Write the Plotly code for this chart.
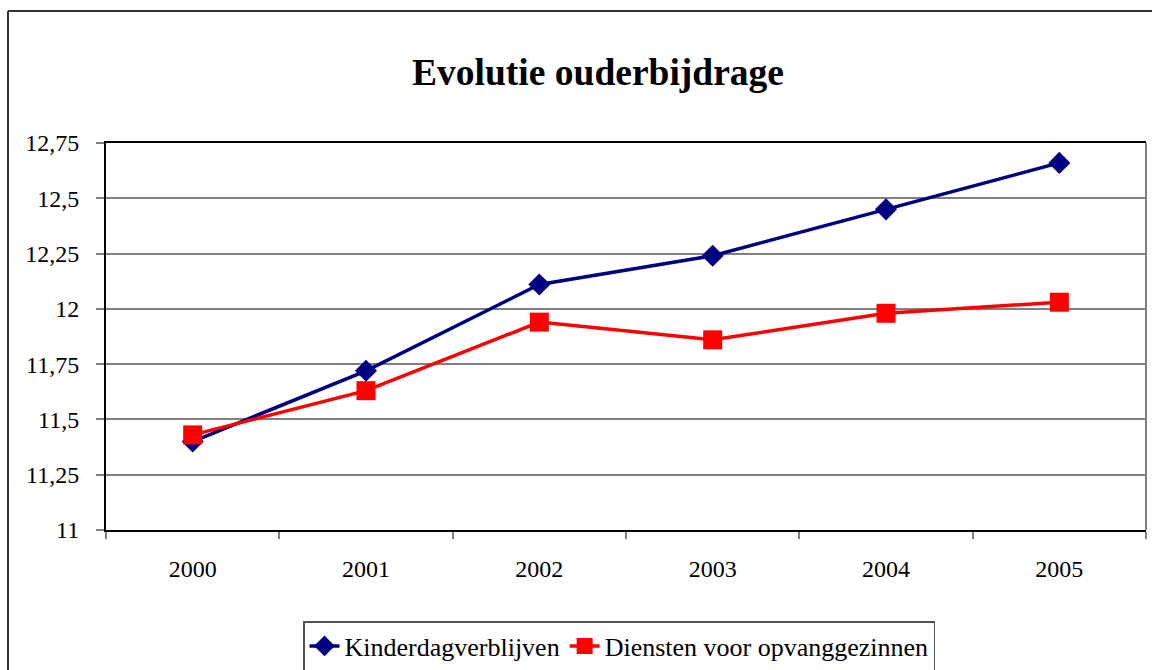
import plotly.graph_objects as go

years = ["2000", "2001", "2002", "2003", "2004", "2005"]
kinderdag = [11.40, 11.72, 12.11, 12.24, 12.45, 12.66]
diensten = [11.43, 11.63, 11.94, 11.86, 11.98, 12.03]
y_ticks = [11, 11.25, 11.5, 11.75, 12, 12.25, 12.5, 12.75]
y_labels = ["11", "11,25", "11,5", "11,75", "12", "12,25", "12,5", "12,75"]

FONT = "Liberation Serif, Times New Roman, serif"

fig = go.Figure()
fig.add_trace(go.Scatter(
    x=years, y=kinderdag, name="Kinderdagverblijven", mode="lines+markers",
    line=dict(color="#000080", width=3.5),
    marker=dict(symbol="diamond", size=17, color="#000080"),
))
fig.add_trace(go.Scatter(
    x=years, y=diensten, name="Diensten voor opvanggezinnen", mode="lines+markers",
    line=dict(color="#FF0000", width=3.5),
    marker=dict(symbol="square", size=19, color="#FF0000"),
))

L, R, T, B = 106, 6, 143, 140
W, H = 1152, 670
pw = W - L - R
ph = H - T - B

def px_x(x):
    return (x - L) / pw

def px_y(y):
    return (H - B - y) / ph

fig.update_layout(
    width=W, height=H,
    margin=dict(l=L, r=R, t=T, b=B, autoexpand=False),
    paper_bgcolor="white", plot_bgcolor="white",
    font=dict(family=FONT, color="black", size=24),
    title=dict(text="<b>Evolutie ouderbijdrage</b>", x=598 / W, xanchor="center",
               y=1 - 72 / H, yanchor="middle", yref="container",
               font=dict(size=37.5, family=FONT, color="black")),
    xaxis=dict(type="category", range=[-0.5, 5.5], tickson="boundaries",
               showgrid=False, showline=True, linecolor="black", linewidth=2,
               mirror=True, ticks="outside", ticklen=7, tickcolor="#808080",
               tickwidth=1.5, tickfont=dict(size=24, family=FONT),
               ticklabelstandoff=16, zeroline=False),
    yaxis=dict(range=[11, 12.75], tickvals=y_ticks, ticktext=y_labels,
               showgrid=True, gridcolor="#808080", gridwidth=1.5,
               showline=True, linecolor="black", linewidth=2,
               ticks="outside", ticklen=8, tickcolor="#808080", tickwidth=1.5,
               tickfont=dict(size=24, family=FONT), ticklabelstandoff=12,
               zeroline=False),
    showlegend=True,
    legend=dict(orientation="h", x=px_x(619), xanchor="center",
                y=px_y(621), yanchor="top",
                bordercolor="#555555", borderwidth=1.5, bgcolor="white",
                font=dict(size=26, family=FONT, color="black"),
                tracegroupgap=0),
    shapes=[
        dict(type="line", xref="paper", yref="paper", x0=1, x1=1, y0=0, y1=1,
             line=dict(color="#808080", width=2)),
        dict(type="line", xref="paper", yref="paper", x0=px_x(8), x1=px_x(8),
             y0=px_y(11), y1=px_y(680), line=dict(color="#333333", width=2)),
        dict(type="line", xref="paper", yref="paper", x0=px_x(8), x1=px_x(1160),
             y0=px_y(11), y1=px_y(11), line=dict(color="#333333", width=2)),
    ],
)

fig.write_html("out.html", config={"displayModeBar": False},
               post_script="document.body.style.margin='0';document.body.style.overflow='hidden';")
